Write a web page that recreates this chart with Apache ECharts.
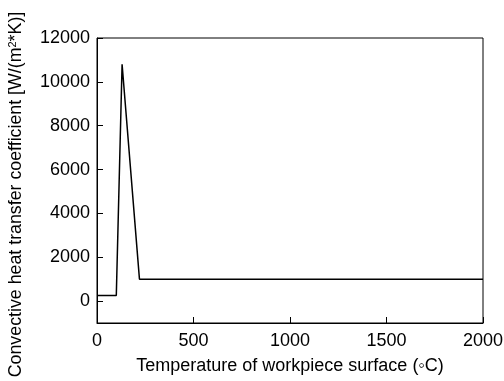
<!DOCTYPE html>
<html><head><meta charset="utf-8">
<script src="https://cdn.jsdelivr.net/npm/echarts@6/dist/echarts.min.js"></script>
<style>html,body{margin:0;padding:0;background:#fff}#c{width:504px;height:381px}</style>
</head><body><div id="c"></div>
<script>
const temperature = [0, 100, 130, 220, 2000];
const htc = [250, 250, 10800, 1000, 1000];
const xTitle = 'Temperature of workpiece surface (\u25E6C)';
const yTitle = 'Convective heat transfer coefficient [W/(m{sup|2}*K)]';

const chart = echarts.init(document.getElementById('c'));
const font = '"Liberation Sans", Arial, sans-serif';
chart.setOption({
  animation: false,
  backgroundColor: '#fff',
  grid: { left: 97, right: 21, top: 38, bottom: 58, containLabel: false, outerBoundsMode: 'none', show: true, borderColor: '#000', borderWidth: 1, backgroundColor: 'transparent' },
  xAxis: {
    type: 'value', min: 0, max: 2000, interval: 500,
    name: xTitle, nameLocation: 'middle', nameGap: 34,
    nameTextStyle: { color: '#000', fontSize: 18, fontFamily: font },
    axisLine: { show: true, onZero: false, lineStyle: { color: '#000', width: 1 } },
    axisTick: { show: true, inside: true, length: 6, lineStyle: { color: '#000' } },
    axisLabel: { color: '#000', fontSize: 18, fontFamily: font, margin: 9, formatter: v => String(v) },
    splitLine: { show: false }
  },
  yAxis: {
    type: 'value', min: -1000, max: 12000, splitNumber: 6,
    name: yTitle, nameLocation: 'middle', nameGap: 71,
    nameTextStyle: { color: '#000', fontSize: 17.8, fontFamily: font, padding: [0, 28, 0, 0],
      rich: { sup: { fontSize: 11, fontFamily: font, color: '#000', verticalAlign: 'top', padding: [0, 0, 8, 0] } } },
    axisLine: { show: true, onZero: false, lineStyle: { color: '#000', width: 1 } },
    axisTick: { show: true, inside: true, length: 6, lineStyle: { color: '#000' } },
    axisLabel: { color: '#000', fontSize: 18, fontFamily: font, margin: 7, formatter: v => (v < 0 ? '' : String(v)) },
    splitLine: { show: false }
  },
  series: [{
    type: 'line',
    data: temperature.map((t, i) => [t, htc[i]]),
    symbol: 'none',
    lineStyle: { color: '#000', width: 1.5 }
  }]
});
</script></body></html>
